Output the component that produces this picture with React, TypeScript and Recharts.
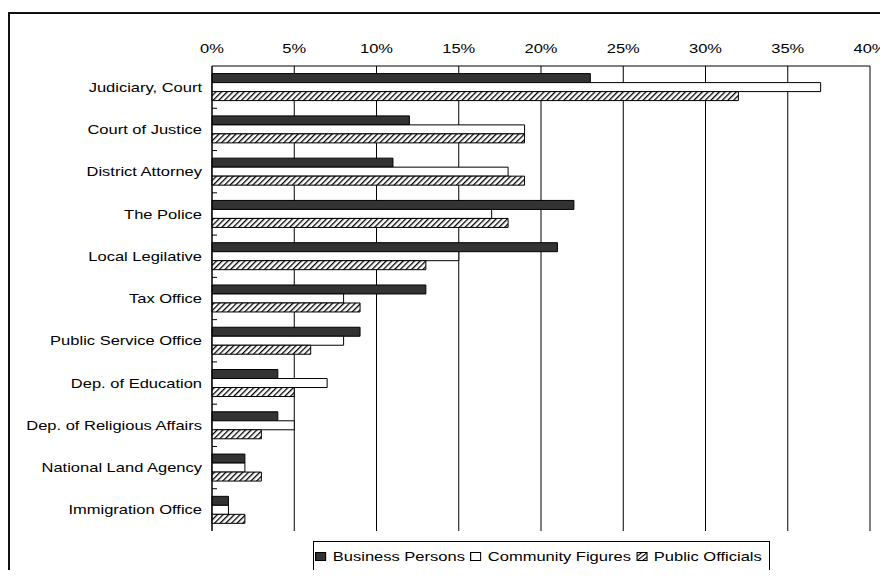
import React from 'react'
import { BarChart, Bar, XAxis, YAxis, CartesianGrid, Legend } from 'recharts'

const categories = [
  'Judiciary, Court',
  'Court of Justice',
  'District Attorney',
  'The Police',
  'Local Legilative',
  'Tax Office',
  'Public Service Office',
  'Dep. of Education',
  'Dep. of Religious Affairs',
  'National Land Agency',
  'Immigration Office',
]
const businessPersons = [23, 12, 11, 22, 21, 13, 9, 4, 4, 2, 1]
const communityFigures = [37, 19, 18, 17, 15, 8, 8, 7, 5, 2, 1]
const publicOfficials = [32, 19, 19, 18, 13, 9, 6, 5, 3, 3, 2]
const xTicks = [0, 5, 10, 15, 20, 25, 30, 35, 40]

const seriesNames = ['Business Persons', 'Community Figures', 'Public Officials']

const chartData = categories.map((name, i) => ({
  name,
  bp: businessPersons[i],
  cf: communityFigures[i],
  po: publicOfficials[i],
}))

const FONT = '"Liberation Sans", Arial, sans-serif'
// text in the original is a bit wider than it is tall
const STRETCH = 1.27
const Y_TICK_SIZE = 6
const Y_TICK_MARGIN = 4

function StretchedText({ x, y, dy, anchor, label }: any) {
  return (
    <text
      x={x}
      y={y}
      dy={dy}
      textAnchor={anchor}
      fill="#000"
      fontSize={13}
      fontFamily={FONT}
      transform={`translate(${x} ${y}) scale(${STRETCH} 1) translate(${-x} ${-y})`}
    >
      {label}
    </text>
  )
}

function YTick(props: any) {
  const { x, y, payload, index } = props
  const half = payload && payload.offset ? payload.offset : 0
  const axisX = x + Y_TICK_SIZE + Y_TICK_MARGIN
  return (
    <g>
      {index > 0 && half > 0 && (
        <line x1={axisX} x2={axisX + 5} y1={y - half} y2={y - half} stroke="#000" strokeWidth={1} />
      )}
      <StretchedText x={x} y={y} dy="0.355em" anchor="end" label={payload.value} />
    </g>
  )
}

function XTick(props: any) {
  const { x, y, payload } = props
  return <StretchedText x={x} y={y} dy="0" anchor="middle" label={`${payload.value}%`} />
}

function LegendSwatch({ kind }: { kind: number }) {
  const fill = kind === 0 ? '#333' : kind === 1 ? '#fff' : 'url(#hatchLegend)'
  return (
    <svg width={9} height={9} style={{ marginRight: 5, verticalAlign: 'middle' }}>
      <defs>
        <pattern id="hatchLegend" patternUnits="userSpaceOnUse" width={3} height={3} patternTransform="rotate(45)">
          <rect width={3} height={3} fill="#fff" />
          <line x1={0} y1={0} x2={0} y2={3} stroke="#000" strokeWidth={2} />
        </pattern>
      </defs>
      <rect x={0.5} y={0.5} width={8} height={8} fill={fill} stroke="#000" strokeWidth={1} />
    </svg>
  )
}

function renderLegend() {
  return (
    <div
      style={{
        border: '1px solid #000',
        width: 457,
        height: 60,
        boxSizing: 'border-box',
        padding: '6px 0 0 1px',
        fontFamily: FONT,
        fontSize: 13,
        color: '#000',
        whiteSpace: 'nowrap',
      }}
    >
      <div style={{ transform: `scaleX(${STRETCH})`, transformOrigin: 'left center' }}>
        {seriesNames.map((s, i) => (
          <span key={s} style={{ marginRight: 4 }}>
            <LegendSwatch kind={i} />
            <span style={{ verticalAlign: 'middle' }}>{s}</span>
          </span>
        ))}
      </div>
    </div>
  )
}

export default function App() {
  return (
    <div
      style={{
        marginTop: 4,
        marginRight: -8,
        marginBottom: -8,
        height: 566,
        borderTop: '2px solid #111',
        borderLeft: '2px solid #111',
        boxSizing: 'border-box',
        overflow: 'hidden',
        background: '#fff',
      }}
    >
      <BarChart
        width={878}
        height={564}
        data={chartData}
        layout="vertical"
        margin={{ top: 22, right: 18, bottom: 47, left: 10 }}
        barCategoryGap="18%"
        barGap={0}
      >
        <defs>
          <pattern id="hatch" patternUnits="userSpaceOnUse" width={4} height={4} patternTransform="rotate(45)">
            <rect width={4} height={4} fill="#fff" />
            <line x1={0} y1={0} x2={0} y2={4} stroke="#000" strokeWidth={2.6} />
          </pattern>
        </defs>
        <CartesianGrid horizontal={false} stroke="#000" strokeWidth={1} />
        <XAxis
          type="number"
          orientation="top"
          domain={[0, 40]}
          ticks={xTicks}
          tickLine={false}
          tickMargin={7}
          height={30}
          axisLine={{ stroke: '#000' }}
          tick={XTick}
          interval={0}
        />
        <XAxis
          xAxisId="b"
          type="number"
          orientation="bottom"
          domain={[0, 40]}
          height={0}
          tick={false}
          tickLine={false}
          axisLine={{ stroke: '#808080', strokeWidth: 2 }}
        />
        <YAxis
          type="category"
          dataKey="name"
          width={192}
          tickLine={false}
          tickSize={Y_TICK_SIZE}
          tickMargin={Y_TICK_MARGIN}
          axisLine={{ stroke: '#000' }}
          tick={YTick}
          interval={0}
        />
        <YAxis
          yAxisId="r"
          type="category"
          dataKey="name"
          orientation="right"
          width={0}
          tick={false}
          tickLine={false}
          axisLine={{ stroke: '#808080', strokeWidth: 2 }}
        />
        <Legend
          layout="horizontal"
          verticalAlign="middle"
          content={renderLegend}
          wrapperStyle={{ position: 'absolute', left: 303, top: 527, width: 457 }}
        />
        <Bar dataKey="bp" name={seriesNames[0]} fill="#333" stroke="#000" strokeWidth={1} isAnimationActive={false} />
        <Bar dataKey="cf" name={seriesNames[1]} fill="#fff" stroke="#000" strokeWidth={1} isAnimationActive={false} />
        <Bar dataKey="po" name={seriesNames[2]} fill="url(#hatch)" stroke="#000" strokeWidth={1} isAnimationActive={false} />
      </BarChart>
    </div>
  )
}
